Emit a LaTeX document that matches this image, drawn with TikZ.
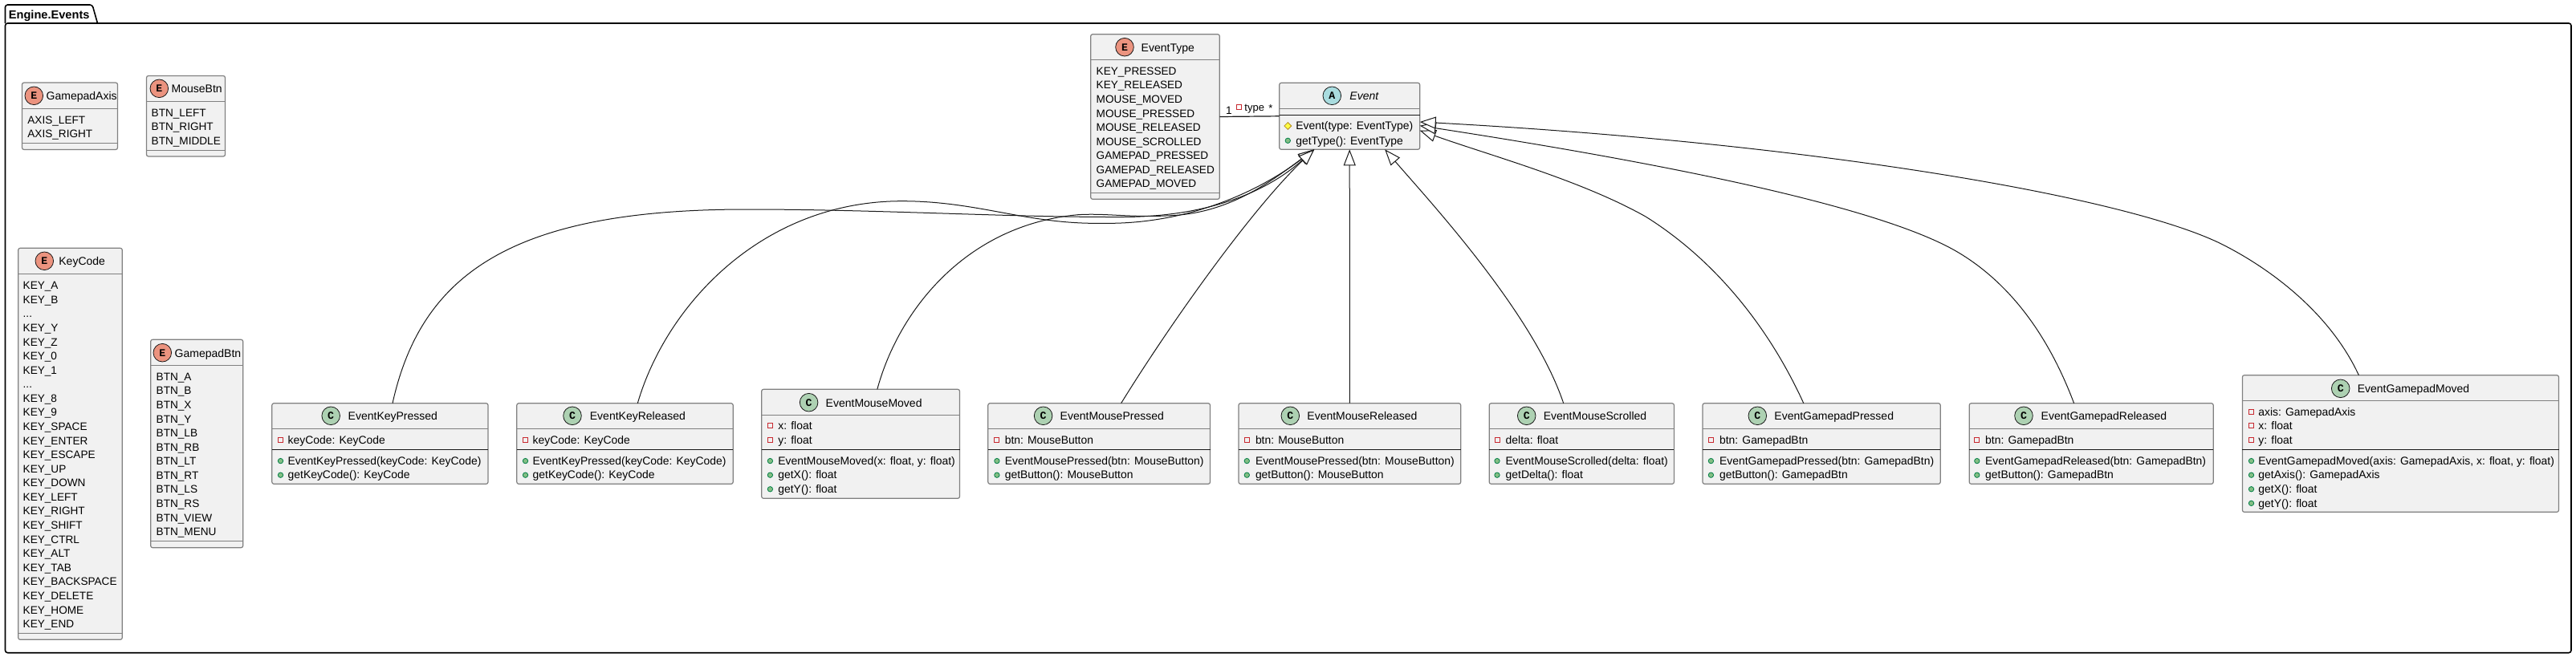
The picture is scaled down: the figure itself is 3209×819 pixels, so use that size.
\documentclass[tikz,border=0pt]{standalone}
\usepackage{fontspec}
\setmainfont{Liberation Sans}
\newfontfamily\spotfamily{Liberation Mono}
\usetikzlibrary{arrows.meta, calc, shapes.geometric}
\usepackage{xcolor}
\definecolor{boxfill}{HTML}{F1F1F1}
\definecolor{boxline}{HTML}{808080}
\definecolor{inkdark}{HTML}{181818}
\definecolor{enumspot}{HTML}{EB937F}
\definecolor{classspot}{HTML}{ADD1B2}
\definecolor{abstractspot}{HTML}{A9DCDF}
\definecolor{privred}{HTML}{C82930}
\definecolor{pubgreen}{HTML}{84BE84}
\definecolor{pubedge}{HTML}{038048}
\definecolor{protfill}{HTML}{FFFF44}
\definecolor{protedge}{HTML}{B38D22}

\newcommand{\rowfont}{\fontsize{6.8pt}{8pt}\selectfont}
\newcommand{\memberfont}{\fontsize{6.95pt}{8pt}\selectfont}
\newcommand{\titlefont}{\fontsize{7pt}{8pt}\selectfont}
\newcommand{\elide}{...}

\tikzset{
    umlshape/.style={draw=boxline, fill=boxfill, line width=.6pt, rounded corners=1.2pt, anchor=north west, inner sep=0pt, outer sep=0pt},
    spot/.style={circle, draw=inkdark, line width=.4pt, minimum size=11.3pt, inner sep=0pt, font=\spotfamily\bfseries\fontsize{6.6pt}{7pt}\selectfont},
    titletext/.style={anchor=base west, inner sep=0pt, font=\titlefont},
    rowtext/.style={anchor=base west, inner sep=0pt, font=\rowfont},
    membertext/.style={anchor=base west, inner sep=0pt, font=\memberfont},
    divider/.style={draw=boxline, line width=.6pt},
    darkdivider/.style={draw=inkdark, line width=.6pt},
    privicon/.style={rectangle, draw=privred, line width=.45pt, minimum size=3pt, inner sep=0pt},
    pubicon/.style={circle, draw=pubedge, fill=pubgreen, line width=.4pt, minimum size=3.2pt, inner sep=0pt},
    proticon/.style={diamond, draw=protedge, fill=protfill, line width=.4pt, minimum size=4.6pt, inner sep=0pt},
    extends/.style={-{Triangle[fill=white, length=10pt, width=7.5pt]}, draw=inkdark, line width=.5pt},
    assoc/.style={draw=inkdark, line width=.6pt},
}

% name, x, y, width, height
\newcommand{\umlbox}[5]{
    \node[umlshape, minimum width=#4*0.5pt, minimum height=#5*0.5pt] (#1) at (#2,#3) {};
}
% name, letter, spot colour, spot x, spot y, title x, title
\newcommand{\umlhead}[7]{
    \node[spot, fill=#3] (#1spot) at (#4,#5) {#2};
    \node[titletext] (#1title) at (#6,#5+5.3) {#7};
}
% style, name, y
\newcommand{\umlline}[3]{
    \draw[#1] (#2.west |- 0,#3) -- (#2.east |- 0,#3);
}
% name, x, first baseline, rows
\newcommand{\enumrows}[4]{
    \foreach \rowlabel [count=\i from 0] in {#4}
        \node[rowtext] (#1row\i) at (#2,{#3+\i*17.58}) {\rowlabel};
}
% name, icon style, icon x, text x, first baseline, rows
\newcommand{\memberrows}[6]{
    \foreach \rowlabel [count=\i from 0] in {#6} {
        \node[#2] (#1#2\i) at (#3,{#5+\i*17.58-4.7}) {};
        \node[membertext] (#1#2row\i) at (#4,{#5+\i*17.58}) {\rowlabel};
    }
}

\begin{document}
\begin{tikzpicture}[x=0.5pt, y=-0.5pt]
    \useasboundingbox (0,0) rectangle (3209,819);

    \draw[line width=.8pt, draw=black, rounded corners=1.5pt] (6.5,29) -- (6.5,6) -- (115,6) -- (121.5,29);
    \draw[line width=.8pt, draw=black, rounded corners=1.5pt] (6.5,29) -- (6.5,813.7) -- (3203,813.7) -- (3203,29) -- cycle;
    \node[anchor=base west, inner sep=0pt, font=\bfseries\fontsize{7.3pt}{8pt}\selectfont] (packagetitle) at (10.5,23.5) {Engine.Events};

    \umlbox{gaxis}{27.5}{103}{119}{83.5}
    \umlhead{gaxis}{E}{enumspot}{42.3}{119.3}{57.3}{GamepadAxis}
    \umlline{divider}{gaxis}{135.5}
    \enumrows{gaxis}{34}{154.3}{AXIS\_LEFT, AXIS\_RIGHT}
    \umlline{divider}{gaxis}{178.5}

    \umlbox{mbtn}{182.5}{94.5}{98}{100.5}
    \umlhead{mbtn}{E}{enumspot}{198.3}{110.3}{213.3}{MouseBtn}
    \umlline{divider}{mbtn}{126.5}
    \enumrows{mbtn}{188.3}{145.3}{BTN\_LEFT, BTN\_RIGHT, BTN\_MIDDLE}
    \umlline{divider}{mbtn}{187.3}

    \umlbox{kcode}{22.7}{309.3}{129.6}{488}
    \umlhead{kcode}{E}{enumspot}{55.3}{325.3}{73}{KeyCode}
    \umlline{divider}{kcode}{341.7}
    \enumrows{kcode}{28.3}{360.7}{KEY\_A, KEY\_B, \elide, KEY\_Y, KEY\_Z, KEY\_0, KEY\_1, \elide, KEY\_8, KEY\_9, KEY\_SPACE, KEY\_ENTER, KEY\_ESCAPE, KEY\_UP, KEY\_DOWN, KEY\_LEFT, KEY\_RIGHT, KEY\_SHIFT, KEY\_CTRL, KEY\_ALT, KEY\_TAB, KEY\_BACKSPACE, KEY\_DELETE, KEY\_HOME, KEY\_END}
    \umlline{divider}{kcode}{789.3}

    \umlbox{gbtn}{187.7}{423.3}{115}{259.4}
    \umlhead{gbtn}{E}{enumspot}{202.3}{439.7}{217.3}{GamepadBtn}
    \umlline{divider}{gbtn}{455.3}
    \enumrows{gbtn}{194.3}{474.3}{BTN\_A, BTN\_B, BTN\_X, BTN\_Y, BTN\_LB, BTN\_RB, BTN\_LT, BTN\_RT, BTN\_LS, BTN\_RS, BTN\_VIEW, BTN\_MENU}
    \umlline{divider}{gbtn}{674.3}

    \umlbox{etype}{1358.7}{42.7}{160.6}{205.6}
    \umlhead{etype}{E}{enumspot}{1401}{58.7}{1421.3}{EventType}
    \umlline{divider}{etype}{74.3}
    \enumrows{etype}{1365.3}{93.3}{KEY\_PRESSED, KEY\_RELEASED, MOUSE\_MOVED, MOUSE\_PRESSED, MOUSE\_RELEASED, MOUSE\_SCROLLED, GAMEPAD\_PRESSED, GAMEPAD\_RELEASED, GAMEPAD\_MOVED}
    \umlline{divider}{etype}{240.3}

    \umlbox{evt}{1593.7}{103.3}{175}{83}
    \umlhead{evt}{A}{abstractspot}{1659.3}{119.3}{1681}{\textit{Event}}
    \umlline{divider}{evt}{135.3}
    \umlline{darkdivider}{evt}{143.3}
    \memberrows{evt}{proticon}{1604.3}{1614}{161.7}{Event(type: EventType)}
    \memberrows{evt}{pubicon}{1604.3}{1614}{180}{getType(): EventType}

    \umlbox{ekp}{338.8}{502.7}{269.2}{100.6}
    \umlhead{ekp}{C}{classspot}{412.2}{518.3}{433.3}{EventKeyPressed}
    \umlline{divider}{ekp}{534.3}
    \memberrows{ekp}{privicon}{349.5}{358.3}{553}{keyCode: KeyCode}
    \umlline{darkdivider}{ekp}{560.3}
    \memberrows{ekp}{pubicon}{349.5}{358.3}{579.3}{EventKeyPressed(keyCode: KeyCode), getKeyCode(): KeyCode}

    \umlbox{ekr}{643.8}{502.7}{269.4}{100.6}
    \umlhead{ekr}{C}{classspot}{713}{518.3}{734.5}{EventKeyReleased}
    \umlline{divider}{ekr}{534.3}
    \memberrows{ekr}{privicon}{654.5}{663.3}{553}{keyCode: KeyCode}
    \umlline{darkdivider}{ekr}{560.3}
    \memberrows{ekr}{pubicon}{654.5}{663.3}{579.3}{EventKeyPressed(keyCode: KeyCode), getKeyCode(): KeyCode}

    \umlbox{emm}{948.7}{485.3}{246.8}{136}
    \umlhead{emm}{C}{classspot}{1007.6}{501.7}{1028.3}{EventMouseMoved}
    \umlline{divider}{emm}{517.3}
    \memberrows{emm}{privicon}{959.4}{969}{535.6}{x: float, y: float}
    \umlline{darkdivider}{emm}{560.3}
    \memberrows{emm}{pubicon}{959.4}{969}{579.3}{{EventMouseMoved(x: float, y: float)}, getX(): float, getY(): float}

    \umlbox{emp}{1230.8}{502.7}{276.7}{100.6}
    \umlhead{emp}{C}{classspot}{1299.6}{518.3}{1320.3}{EventMousePressed}
    \umlline{divider}{emp}{534.3}
    \memberrows{emp}{privicon}{1241.9}{1251.4}{553}{btn: MouseButton}
    \umlline{darkdivider}{emp}{560.3}
    \memberrows{emp}{pubicon}{1241.9}{1251.4}{579.3}{EventMousePressed(btn: MouseButton), getButton(): MouseButton}

    \umlbox{emr}{1543}{502.7}{276.7}{100.6}
    \umlhead{emr}{C}{classspot}{1607.3}{518.3}{1628}{EventMouseReleased}
    \umlline{divider}{emr}{534.3}
    \memberrows{emr}{privicon}{1553.3}{1563.6}{553}{btn: MouseButton}
    \umlline{darkdivider}{emr}{560.3}
    \memberrows{emr}{pubicon}{1553.3}{1563.6}{579.3}{EventMousePressed(btn: MouseButton), getButton(): MouseButton}

    \umlbox{ems}{1855.2}{502.7}{230.2}{100.6}
    \umlhead{ems}{C}{classspot}{1901.7}{518.3}{1922.4}{EventMouseScrolled}
    \umlline{divider}{ems}{534.3}
    \memberrows{ems}{privicon}{1865}{1875.3}{553}{delta: float}
    \umlline{darkdivider}{ems}{560.3}
    \memberrows{ems}{pubicon}{1865}{1875.3}{579.3}{EventMouseScrolled(delta: float), getDelta(): float}

    \umlbox{egp}{2121}{502.7}{296.2}{100.6}
    \umlhead{egp}{C}{classspot}{2189.3}{518.3}{2210}{EventGamepadPressed}
    \umlline{divider}{egp}{534.3}
    \memberrows{egp}{privicon}{2131.4}{2141.7}{553}{btn: GamepadBtn}
    \umlline{darkdivider}{egp}{560.3}
    \memberrows{egp}{pubicon}{2131.4}{2141.7}{579.3}{EventGamepadPressed(btn: GamepadBtn), getButton(): GamepadBtn}

    \umlbox{egr}{2453.2}{502.7}{304}{100.6}
    \umlhead{egr}{C}{classspot}{2521}{518.3}{2542.3}{EventGamepadReleased}
    \umlline{divider}{egr}{534.3}
    \memberrows{egr}{privicon}{2462.8}{2472.8}{553}{btn: GamepadBtn}
    \umlline{darkdivider}{egr}{560.3}
    \memberrows{egr}{pubicon}{2462.8}{2472.8}{579.3}{EventGamepadReleased(btn: GamepadBtn), getButton(): GamepadBtn}

    \umlbox{egm}{2793.4}{467.7}{394.1}{170.6}
    \umlhead{egm}{C}{classspot}{2915.7}{484.3}{2936.4}{EventGamepadMoved}
    \umlline{divider}{egm}{499.7}
    \memberrows{egm}{privicon}{2804.5}{2813}{518}{axis: GamepadAxis, x: float, y: float}
    \umlline{darkdivider}{egm}{560.3}
    \memberrows{egm}{pubicon}{2804.5}{2813}{579.3}{{EventGamepadMoved(axis: GamepadAxis, x: float, y: float)}, getAxis(): GamepadAxis, getX(): float, getY(): float}

    \coordinate (evtleft) at ($(evt.south west)+(43.5,0)$);
    \coordinate (evtright) at ($(evt.south west)+(131.5,0)$);
    \coordinate (evtr1) at ($(evt.north east)+(0,48.7)$);
    \coordinate (evtr2) at ($(evt.north east)+(0,53.4)$);
    \coordinate (evtr3) at ($(evt.north east)+(0,59.4)$);
    \coordinate (ekpin) at ($(ekp.north west)+(150.2,0)$);
    \coordinate (ekrin) at ($(ekr.north west)+(150.5,0)$);
    \coordinate (emmin) at ($(emm.north west)+(144.1,0)$);
    \coordinate (empin) at ($(emp.north west)+(165.8,0)$);
    \coordinate (emsin) at ($(ems.north west)+(92.5,0)$);
    \coordinate (egpin) at ($(egp.north west)+(125.8,0)$);
    \coordinate (egrin) at ($(egr.north west)+(130.4,0)$);
    \coordinate (egmin) at ($(egm.north west)+(145,0)$);

    \draw[extends] (ekpin) .. controls (525,340) and (640,261) .. (929.8,261) .. controls (1100,261) and (1250,271) .. (1400,270.5) .. controls (1500,270) and (1575,242) .. (evtleft);
    \draw[extends] (ekrin) .. controls (830,380) and (950,250) .. (1125,250.7) .. controls (1220,251) and (1280,280) .. (1373.6,278.3) .. controls (1470,280) and (1560,245) .. (evtleft);
    \draw[extends] (emmin) .. controls (1120,385) and (1205,280) .. (1343,267.7) .. controls (1380,265.5) and (1410,272) .. (1465.5,268.3) .. controls (1535,263) and (1585,225) .. (evtleft);
    \draw[extends] (empin) .. controls (1460,400) and (1560,260) .. (evtleft);
    \draw[extends] (emr) -- (evt);
    \draw[extends] (emsin) .. controls (1910,390) and (1780,250) .. (evtright);
    \draw[extends] (egpin) .. controls (2200,400) and (2130,320) .. (2050,270) .. controls (1970,225) and (1860,195) .. (evtr3);
    \draw[extends] (egrin) .. controls (2545,400) and (2490,345) .. (2440,315) .. controls (2340,255) and (2050,200) .. (evtr2);
    \draw[extends] (egmin) .. controls (2900,385) and (2820,330) .. (2765,303) .. controls (2640,243) and (2250,178) .. (evtr1);

    \draw[assoc] (etype.east) -- (evt.west);
    \node[anchor=base, inner sep=0pt, font=\rowfont] (typeone) at (1531,142) {1};
    \node[privicon] (typeicon) at (1543.3,133.3) {};
    \node[anchor=base west, inner sep=0pt, font=\fontsize{6.5pt}{7pt}\selectfont] (typelabel) at (1550,138.3) {type};
    \node[anchor=base, inner sep=0pt, font=\fontsize{6.5pt}{7pt}\selectfont] (typestar) at (1583,139) {*};
\end{tikzpicture}
\end{document}
